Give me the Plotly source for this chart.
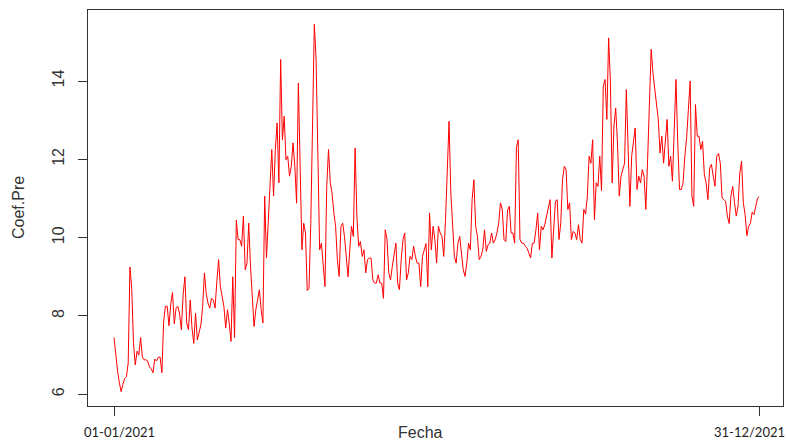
import pandas as pd
import plotly.graph_objects as go

# Daily values of Coef.Pre, 2021
coef_pre = [
    7.45, 6.95, 6.6, 6.3, 6.07, 6.25, 6.4, 6.45, 6.8, 9.25,
    8.7, 7.3, 6.75, 7.1, 7.0, 7.45, 6.95, 6.88, 6.88, 6.85,
    6.7, 6.65, 6.55, 6.9, 6.85, 6.95, 6.95, 6.55, 7.85, 8.25,
    8.25, 7.75, 8.3, 8.6, 7.8, 8.2, 8.25, 8.05, 7.65, 8.55,
    9.0, 7.82, 7.65, 8.41, 7.69, 7.3, 8.07, 7.39, 7.6, 7.77,
    8.24, 9.1, 8.58, 8.33, 8.2, 8.45, 8.41, 8.2, 8.88, 9.44,
    8.75, 8.45, 8.24, 7.69, 8.16, 7.82, 7.35, 9.0, 7.45, 10.45,
    9.95, 9.95, 9.78, 10.55, 9.18, 9.35, 10.37, 9.27, 8.58, 7.73,
    8.16, 8.37, 8.67, 8.16, 7.82, 11.06, 9.48, 10.4, 11.5, 12.25,
    11.06, 12.25, 12.93, 11.4, 14.55, 12.5, 13.1, 11.99, 12.08, 11.57,
    11.82, 12.42, 11.82, 10.88, 13.95, 11.57, 9.69, 10.37, 10.12, 8.65,
    8.7, 10.37, 13.53, 15.45, 14.55, 11.9, 9.69, 9.86, 9.35, 8.75,
    11.31, 12.25, 11.4, 11.14, 10.63, 10.29, 9.44, 9.01, 10.29, 10.37,
    10.03, 9.55, 9.0, 9.7, 10.29, 10.03, 12.29, 10.55, 9.78, 9.9,
    9.52, 9.69, 9.1, 9.44, 9.48, 9.48, 8.92, 8.84, 8.84, 9.05,
    8.84, 8.84, 8.45, 10.2, 9.95, 9.1, 8.92, 9.27, 9.61, 9.86,
    8.84, 8.67, 9.44, 9.95, 10.12, 8.92, 9.1, 9.52, 9.44, 9.78,
    9.52, 9.35, 9.35, 8.75, 9.52, 9.69, 9.85, 8.75, 10.63, 9.69,
    10.29, 9.95, 9.35, 10.29, 10.12, 10.03, 9.52, 10.46, 11.99, 12.97,
    11.14, 10.2, 9.52, 9.35, 9.86, 10.03, 9.52, 9.18, 9.01, 9.35,
    9.86, 9.69, 10.97, 11.48, 10.29, 10.03, 9.44, 9.52, 9.69, 10.2,
    9.65, 9.82, 9.86, 10.12, 9.86, 9.95, 10.12, 10.37, 10.89, 10.72,
    9.95, 9.9, 10.7, 10.8, 10.12, 10.12, 9.86, 12.3, 12.5, 9.95,
    9.86, 9.86, 9.78, 9.73, 9.61, 9.48, 9.86, 9.86, 10.2, 10.63,
    9.69, 10.29, 10.2, 10.33, 10.55, 10.8, 10.97, 9.48, 10.2, 10.93,
    10.97, 9.95, 10.37, 11.48, 11.82, 11.74, 10.72, 10.89, 9.95, 10.16,
    10.12, 9.95, 10.33, 9.95, 9.86, 10.72, 10.6, 11.06, 12.08, 11.9,
    12.5, 10.46, 11.4, 11.31, 12.08, 11.2, 13.87, 14.04, 13.02, 15.1,
    14.0, 11.4, 12.85, 13.31, 12.42, 11.06, 11.57, 11.75, 11.9, 13.78,
    12.16, 10.8, 12.08, 12.5, 12.8, 11.23, 11.57, 11.4, 11.74, 11.57,
    10.72, 11.99, 13.7, 14.81, 14.21, 13.78, 13.53, 13.02, 12.16, 12.59,
    11.9, 12.42, 13.02, 11.82, 12.08, 11.44, 12.59, 14.04, 12.42, 11.23,
    11.23, 11.4, 12.08, 12.55, 13.27, 14.0, 11.06, 10.8, 13.4, 12.59,
    12.59, 12.25, 12.46, 11.61, 11.4, 10.97, 11.78, 11.87, 11.57, 11.31,
    12.08, 12.15, 11.9, 11.01, 10.97, 10.93, 10.55, 10.36, 11.06, 11.31,
    10.9, 10.55, 10.8, 11.65, 11.95, 10.89, 10.59, 10.05, 10.29, 10.37,
    10.65, 10.59, 10.8, 11.01, 11.04,
]

fechas = pd.date_range("2021-01-01", periods=len(coef_pre), freq="D")

x_tick_vals = [pd.Timestamp("2021-01-01"), pd.Timestamp("2021-12-31")]
x_tick_text = ["01-01/2021", "31-12/2021"]
y_tick_vals = [6, 8, 10, 12, 14]
y_tick_text = ["6", "8", "10", "12", "14"]

start = pd.Timestamp("2021-01-01")
x_range = [start - pd.Timedelta(days=14.67), start + pd.Timedelta(days=377.37)]
y_range = [5.701, 15.813]

fig = go.Figure()
fig.add_trace(go.Scatter(
    x=fechas, y=coef_pre, mode="lines",
    line=dict(color="#ff0000", width=1),
    hoverinfo="skip", showlegend=False,
))

# x tick labels drawn as text at the tick positions (slightly shifted like the reference)
label_shifts = [5, -10]
annotations = [
    dict(text=t, x=v, xref="x", yref="paper", y=-(432.5 - 406) / 396,
         xanchor="center", yanchor="middle", xshift=s, showarrow=False,
         borderpad=0,
         font=dict(family="Lato, sans-serif", size=13, color="#222222"))
    for t, v, s in zip(x_tick_text, x_tick_vals, label_shifts)
]
annotations += [
    dict(text="Fecha", xref="paper", yref="paper",
         x=(420 - 88) / (783 - 88), y=-(432 - 406) / 396,
         xanchor="center", yanchor="middle", showarrow=False,
         font=dict(size=16, color="#333333")),
    dict(text="Coef.Pre", xref="paper", yref="paper",
         x=-(88 - 18) / (783 - 88), y=(406 - 208) / 396,
         xanchor="center", yanchor="middle", showarrow=False,
         textangle=-90, font=dict(size=16, color="#333333")),
]

fig.update_layout(
    width=786, height=440,
    margin=dict(l=88, r=3, t=10, b=34),
    paper_bgcolor="white", plot_bgcolor="white",
    font=dict(family="Liberation Sans, Arial, sans-serif", color="#222222"),
    xaxis=dict(
        range=x_range, tickmode="array", tickvals=x_tick_vals, ticktext=x_tick_text,
        showticklabels=False,
        showgrid=False, zeroline=False, showline=True, mirror=True,
        linecolor="#333333", linewidth=1, automargin=False,
        ticks="outside", ticklen=9, tickwidth=1, tickcolor="#333333",
    ),
    yaxis=dict(
        range=y_range, tickmode="array", tickvals=y_tick_vals, ticktext=y_tick_text,
        showgrid=False, zeroline=False, showline=True, mirror=True,
        linecolor="#333333", linewidth=1, automargin=False,
        ticks="outside", ticklen=9, tickwidth=1, tickcolor="#333333",
        tickangle=-90, tickfont=dict(size=16, color="#333333"),
        ticklabelstandoff=8,
    ),
    annotations=annotations,
)

fig.write_html(
    "out.html",
    config=dict(displayModeBar=False),
    post_script="document.body.style.margin='0';document.body.style.padding='0';document.body.style.overflow='hidden';",
)
